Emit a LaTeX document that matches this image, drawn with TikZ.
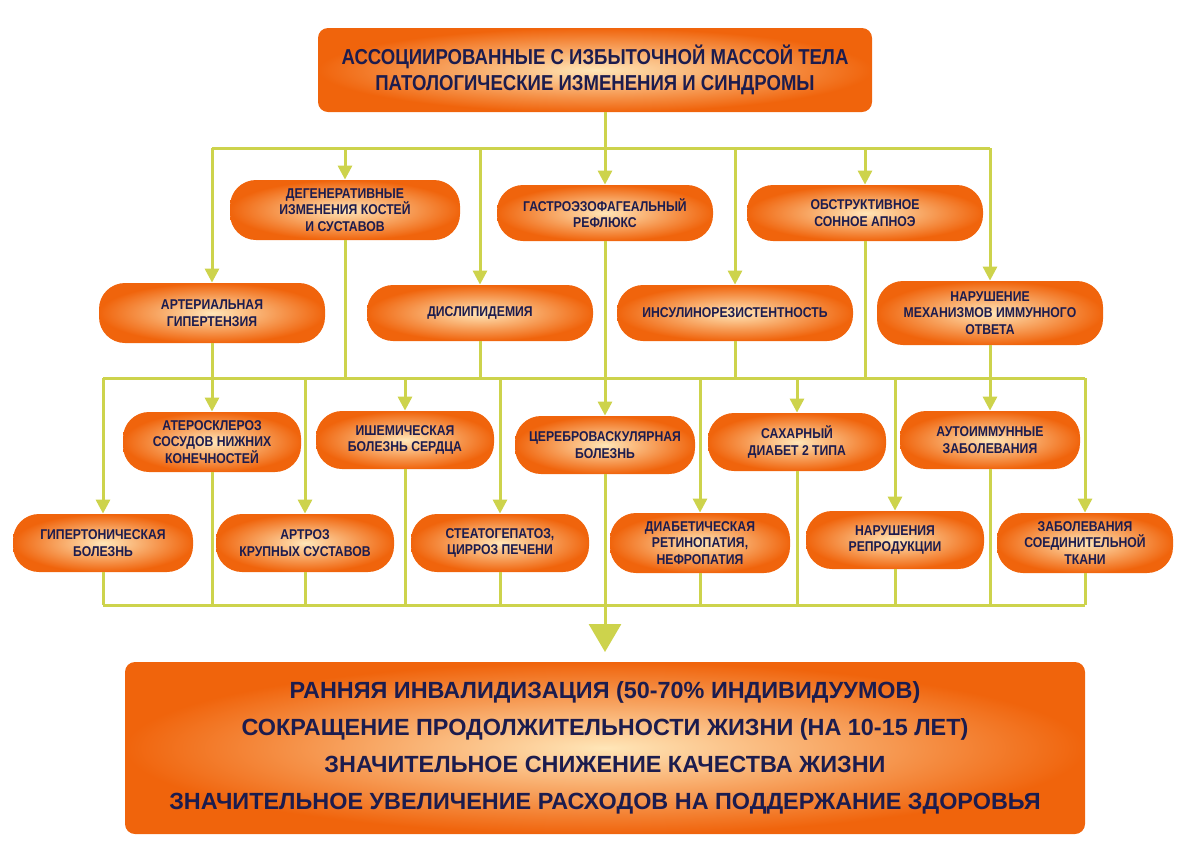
\documentclass[tikz,border=0pt]{standalone}
\usepackage{fontspec}
\setmainfont{Liberation Sans}[FakeStretch=0.86]
\newfontfamily\widef{Liberation Sans}
\usetikzlibrary{arrows.meta,calc}
\definecolor{ink}{HTML}{1C1C4E}
\definecolor{org}{HTML}{F0640C}
\definecolor{glow}{HTML}{FFE6B8}
\definecolor{ln}{HTML}{CDD34C}
\tikzset{
 pill/.style={shading=radial,inner color=glow,outer color=org,rounded corners=13pt,
   minimum height=28pt,text=ink,font=\bfseries\fontsize{7.1}{8.3}\selectfont,align=center,inner sep=1pt},
 bigbox/.style={shading=radial,inner color=glow,outer color=org,rounded corners=5pt,text=ink,align=center},
 wire/.style={draw=ln,line width=1.5pt},
 arr/.style={wire,-{Triangle[length=7pt,width=7pt]}},
}
\begin{document}
\begin{tikzpicture}[x=0.5pt,y=-0.5pt]
\useasboundingbox (0,0) rectangle (1200,858);
\node[bigbox,minimum width=277pt,minimum height=42pt,font=\bfseries\fontsize{10.8}{13}\selectfont] (top) at (595,70)
 {АССОЦИИРОВАННЫЕ С ИЗБЫТОЧНОЙ МАССОЙ ТЕЛА\\ПАТОЛОГИЧЕСКИЕ ИЗМЕНЕНИЯ И СИНДРОМЫ};
\node[bigbox,minimum width=480pt,minimum height=86pt,font=\widef\bfseries\fontsize{11.7}{18.5}\selectfont] (bot) at (605,748)
 {РАННЯЯ ИНВАЛИДИЗАЦИЯ (50-70\% ИНДИВИДУУМОВ)\\СОКРАЩЕНИЕ ПРОДОЛЖИТЕЛЬНОСТИ ЖИЗНИ (НА 10-15 ЛЕТ)\\ЗНАЧИТЕЛЬНОЕ СНИЖЕНИЕ КАЧЕСТВА ЖИЗНИ\\ЗНАЧИТЕЛЬНОЕ УВЕЛИЧЕНИЕ РАСХОДОВ НА ПОДДЕРЖАНИЕ ЗДОРОВЬЯ};
% row 1
\node[pill,minimum width=115pt,minimum height=30pt] (deg) at (345,210) {ДЕГЕНЕРАТИВНЫЕ\\ИЗМЕНЕНИЯ КОСТЕЙ\\И СУСТАВОВ};
\node[pill,minimum width=108pt] (gerd) at (605,213) {ГАСТРОЭЗОФАГЕАЛЬНЫЙ\\РЕФЛЮКС};
\node[pill,minimum width=118pt] (apn) at (865,213) {ОБСТРУКТИВНОЕ\\СОННОЕ АПНОЭ};
% row 2
\node[pill,minimum width=113pt,minimum height=30pt] (art) at (212,313) {АРТЕРИАЛЬНАЯ\\ГИПЕРТЕНЗИЯ};
\node[pill,minimum width=113pt] (dys) at (480,313) {ДИСЛИПИДЕМИЯ};
\node[pill,minimum width=118pt] (ins) at (735,313) {ИНСУЛИНОРЕЗИСТЕНТНОСТЬ};
\node[pill,minimum width=113pt,minimum height=32pt] (imm) at (990,313) {НАРУШЕНИЕ\\МЕХАНИЗМОВ ИММУННОГО\\ОТВЕТА};
% row 3
\node[pill,minimum width=89pt,minimum height=30pt] (ath) at (212,442) {АТЕРОСКЛЕРОЗ\\СОСУДОВ НИЖНИХ\\КОНЕЧНОСТЕЙ};
\node[pill,minimum width=89pt,minimum height=29pt] (ihd) at (405,440) {ИШЕМИЧЕСКАЯ\\БОЛЕЗНЬ СЕРДЦА};
\node[pill,minimum width=90pt,minimum height=29pt] (cer) at (605,445) {ЦЕРЕБРОВАСКУЛЯРНАЯ\\БОЛЕЗНЬ};
\node[pill,minimum width=89pt,minimum height=29pt] (dm) at (797,442) {САХАРНЫЙ\\ДИАБЕТ 2 ТИПА};
\node[pill,minimum width=90pt,minimum height=29pt] (aut) at (990,440) {АУТОИММУННЫЕ\\ЗАБОЛЕВАНИЯ};
% row 4
\node[pill,minimum width=90pt,minimum height=29pt] (hyp) at (103,543) {ГИПЕРТОНИЧЕСКАЯ\\БОЛЕЗНЬ};
\node[pill,minimum width=89pt,minimum height=29pt] (arz) at (305,543) {АРТРОЗ\\КРУПНЫХ СУСТАВОВ};
\node[pill,minimum width=89pt,minimum height=29pt] (ste) at (500,543) {СТЕАТОГЕПАТОЗ,\\ЦИРРОЗ ПЕЧЕНИ};
\node[pill,minimum width=90pt,minimum height=30pt] (ret) at (700,543) {ДИАБЕТИЧЕСКАЯ\\РЕТИНОПАТИЯ,\\НЕФРОПАТИЯ};
\node[pill,minimum width=89pt,minimum height=29pt] (rep) at (895,540) {НАРУШЕНИЯ\\РЕПРОДУКЦИИ};
\node[pill,minimum width=88pt,minimum height=30pt] (con) at (1085,543) {ЗАБОЛЕВАНИЯ\\СОЕДИНИТЕЛЬНОЙ\\ТКАНИ};
% bars
\coordinate (b1) at (0,148);
\coordinate (b2) at (0,378);
\coordinate (b3) at (0,605);
\draw[wire] (top.south -| 605,0) -- (605,148);
\draw[wire] (art.north |- b1) -- (imm.north |- b1);
\foreach \n in {art,dys,ins,imm}{\draw[arr] (\n.north |- b1) -- (\n.north);}
\foreach \n in {deg,gerd,apn}{\draw[arr] (\n.north |- b1) -- (\n.north);}
\draw[wire] (hyp.north |- b2) -- (con.north |- b2);
\draw[wire] (art.south) -- (art.south |- b2);
\draw[wire] (imm.south) -- (imm.south |- b2);
\draw[wire] (deg.south) -- (deg.south |- b2);
\draw[wire] (dys.south) -- (dys.south |- b2);
\draw[wire] (ins.south) -- (ins.south |- b2);
\draw[wire] (apn.south) -- (apn.south |- b2);
\draw[arr] (gerd.south) -- (cer.north);
\foreach \n in {ath,ihd,dm,aut,hyp,arz,ste,ret,rep,con}{\draw[arr] (\n.north |- b2) -- (\n.north);}
\draw[wire] (hyp.south |- b3) -- (con.south |- b3);
\foreach \n in {ath,ihd,dm,aut,hyp,arz,ste,ret,rep,con}{\draw[wire] (\n.south) -- (\n.south |- b3);}
\draw[wire] (cer.south) -- (cer.south |- b3);
\coordinate (tip) at (605,652);
\draw[wire,-{Triangle[length=14pt,width=16pt]}] (cer.south |- b3) -- (tip);
\end{tikzpicture}
\end{document}
